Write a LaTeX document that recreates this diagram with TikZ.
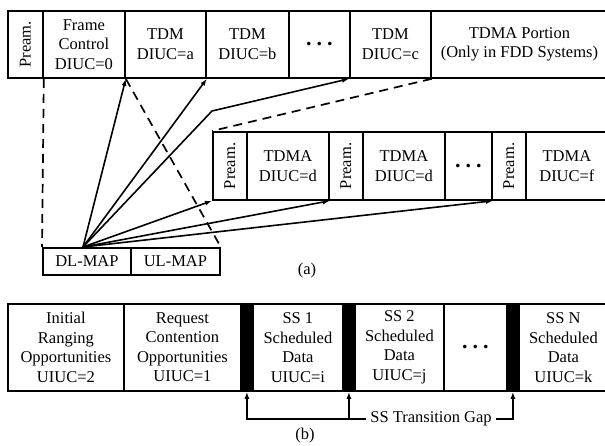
\documentclass[tikz,border=0pt]{standalone}
\usepackage{fontspec}
\usepackage{graphicx}
\setmainfont{Liberation Serif}
\usetikzlibrary{arrows.meta}
\begin{document}
\begin{tikzpicture}[x=1pt,y=-1pt,
  txt/.style={font=\fontsize{16.5}{19.5}\selectfont},
  cell/.style={txt, draw, line width=1.8pt, anchor=north west, inner sep=0pt, align=center},
  gapbar/.style={draw, fill=black, line width=1.8pt, anchor=north west, inner sep=0pt},
  arr/.style={line width=1.6pt, -{Latex[length=7pt,width=5pt]}},
  dsh/.style={line width=1.7pt, dash pattern=on 9pt off 6pt},
  dotsx/.style={cell, font=\fontsize{22}{24}\selectfont\bfseries}]
\useasboundingbox (0,0) rectangle (605,446);
% ---------- top row
\node[cell, minimum width=35, minimum height=67] (pa1) at (7,10) {\rotatebox{90}{Pream.}};
\node[cell, minimum width=82, minimum height=67] (fc) at (42,10) {Frame\\Control\\DIUC=0};
\node[cell, minimum width=81, minimum height=67] (tdma) at (124,10) {TDM\\DIUC=a};
\node[cell, minimum width=83, minimum height=67] (tdmb) at (205,10) {TDM\\DIUC=b};
\node[dotsx, minimum width=61, minimum height=67] (dots1) at (288,10) {.\hspace{5pt}.\hspace{5pt}.};
\node[cell, minimum width=81, minimum height=67] (tdmc) at (349,10) {TDM\\DIUC=c};
\node[cell, minimum width=177, minimum height=67] (tdmap) at (430,10) {\hspace*{-10pt}TDMA Portion\hspace*{-10pt}\\\hspace*{-10pt}(Only in FDD Systems)\hspace*{-10pt}};
% ---------- second row
\node[cell, minimum width=34, minimum height=68] (pb1) at (212,131) {\rotatebox{90}{Pream.}};
\node[cell, minimum width=82, minimum height=68] (d1) at (246,131) {TDMA\\DIUC=d};
\node[cell, minimum width=34, minimum height=68] (pb2) at (328,131) {\rotatebox{90}{Pream.}};
\node[cell, minimum width=82, minimum height=68] (d2) at (362,131) {TDMA\\DIUC=d};
\node[dotsx, minimum width=47, minimum height=68] (dots2) at (444,131) {.\hspace{5pt}.\hspace{5pt}.};
\node[cell, minimum width=34, minimum height=68] (pb3) at (491,131) {\rotatebox{90}{Pream.}};
\node[cell, minimum width=82, minimum height=68] (f) at (525,131) {TDMA\\DIUC=f};
% ---------- maps
\node[cell, minimum width=88, minimum height=27] (dl) at (42,247) {DL-MAP};
\node[cell, minimum width=89, minimum height=27] (ul) at (130,247) {UL-MAP};
\coordinate (o) at (83,247);
\coordinate (bend) at (212,111);
\draw[arr] (o) -- (fc.south east);
\draw[arr] (o) -- (tdma.south east);
\draw[arr] (o) -- (bend) -- (tdmc.south west);
\draw[arr] (o) -- (pb1.south west);
\draw[arr] (o) -- (d1.south east);
\draw[arr] (o) -- (dots2.south east);
\draw[dsh] (pa1.south east) -- (dl.north west);
\draw[dsh] (fc.south east) -- (ul.north east);
\draw[dsh] (tdmc.south east) -- (pb1.north west);
\node[txt] (la) at (307,271) {(a)};
% ---------- bottom row
\node[cell, minimum width=116, minimum height=87] (ir) at (7,303) {Initial\\Ranging\\Opportunities\\UIUC=2};
\node[cell, minimum width=117, minimum height=87] (rc) at (123,303) {Request\\Contention\\Opportunities\\UIUC=1};
\node[gapbar, minimum width=11, minimum height=87] (bar1) at (240.5,303) {};
\node[cell, minimum width=90, minimum height=87] (ss1) at (252,303) {SS 1\\Scheduled\\Data\\UIUC=i};
\node[gapbar, minimum width=11, minimum height=87] (bar2) at (342.5,303) {};
\node[cell, minimum width=89, minimum height=87] (ss2) at (354,303) {SS 2\\Scheduled\\Data\\UIUC=j};
\node[dotsx, minimum width=63, minimum height=87] (dots3) at (443,303) {.\hspace{5pt}.\hspace{5pt}.};
\node[gapbar, minimum width=11, minimum height=87] (bar3) at (506.5,303) {};
\node[cell, minimum width=89, minimum height=87] (ssn) at (518,303) {SS N\\Scheduled\\Data\\UIUC=k};
\node[txt, inner sep=4pt] (gap) at (431,419) {SS Transition Gap};
\draw[arr] (gap.west) -| (bar1.south);
\draw[arr] (bar2.south |- gap.west) -- (bar2.south);
\draw[arr] (gap.east) -| (bar3.south);
\node[txt] (lb) at (305,435.5) {(b)};
\end{tikzpicture}
\end{document}
